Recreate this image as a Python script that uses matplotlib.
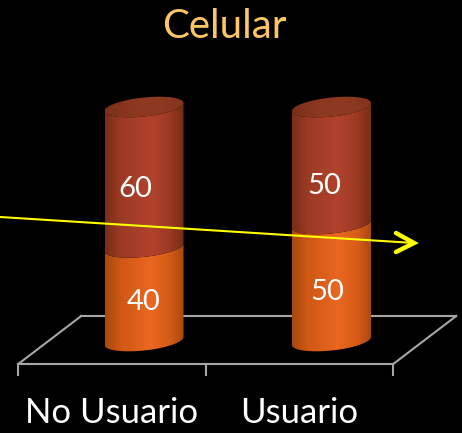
import numpy as np
import matplotlib
matplotlib.use('Agg')
import matplotlib.pyplot as plt
from matplotlib.colors import LinearSegmentedColormap
from matplotlib.patches import Polygon

plt.rcParams['font.family'] = ['Lato', 'DejaVu Sans']

# data
categories = ['No Usuario', 'Usuario']
lower_values = [40, 50]
upper_values = [60, 50]
title = 'Celular'

# colours
orange_stops = [(0, '#a8480e'), (0.2, '#cf5815'), (0.58, '#ea6720'), (0.82, '#d65c17'), (1, '#a8480e')]
red_stops = [(0, '#7a2e18'), (0.2, '#9c3a24'), (0.58, '#b2422c'), (0.82, '#9c3a24'), (1, '#742c17')]
cap_stops = ['#7a3019', '#8c3820', '#8e3a22', '#84341c']
grid_color = '#a6a6a6'

W, H = 462, 433
PX_X = 187.5   # pixels per category
PX_Y = 2.34    # pixels per value unit
FRONT_X = 112  # pixel of first category on the front edge
FRONT_Y = 364  # pixel of value 0 on the front edge

fig = plt.figure(figsize=(W / 100, H / 100), dpi=100, facecolor='black')
ax = fig.add_axes([0, 0, 1, 1])
ax.set_facecolor('black')
ax.axis('off')
xlim = (-FRONT_X / PX_X, (W - FRONT_X) / PX_X)
ylim = (-(H - FRONT_Y) / PX_Y, FRONT_Y / PX_Y)

# oblique depth of the floor
depth_x = 63 / PX_X
depth_y = 48 / PX_Y
bar_dx = 32 / PX_X
bar_dy = 23 / PX_Y
a = 39.5 / PX_X
b = 9.5 / PX_Y
k = 4 / PX_Y


def front_arc(cx, cy):
    t = np.linspace(np.pi, 0, 60)
    return cx + a * np.cos(t), cy + k * np.cos(t) - b * np.sin(t)


def back_arc(cx, cy):
    t = np.linspace(0, -np.pi, 60)
    return cx + a * np.cos(t), cy + k * np.cos(t) - b * np.sin(t)


def shaded(verts, stops, x0, x1, y0, y1, z):
    cmap = LinearSegmentedColormap.from_list('shade', stops)
    grad = np.linspace(0, 1, 200).reshape(1, -1)
    im = ax.imshow(grad, cmap=cmap, extent=(x0, x1, y0, y1), aspect='auto',
                   zorder=z, interpolation='bilinear')
    clip = Polygon(verts, closed=True, transform=ax.transData, fc='none', ec='none')
    ax.add_patch(clip)
    im.set_clip_path(clip)


def segment(cx, v0, v1, stops):
    y0 = v0 + bar_dy
    y1 = v1 + bar_dy
    xa, ya = front_arc(cx, y0)
    xb, yb = front_arc(cx, y1)
    verts = np.vstack([np.column_stack([xa, ya]), np.column_stack([xb[::-1], yb[::-1]])])
    shaded(verts, stops, cx - a, cx + a, y0 - 2 * b, y1 + 2 * b, 2)


# floor outline
x_left, x_right = -0.5, 1.5
ax.plot([x_left, x_right], [0, 0], color=grid_color, lw=1.5, zorder=1)
ax.plot([x_left + depth_x, x_right + depth_x], [depth_y, depth_y], color=grid_color, lw=1.5, zorder=1)
ax.plot([x_left, x_left + depth_x], [0, depth_y], color=grid_color, lw=1.5, zorder=1)
ax.plot([x_right, x_right + depth_x], [0, depth_y], color=grid_color, lw=1.5, zorder=1)
for tick in [x_left, 0.5, x_right]:
    ax.plot([tick, tick], [0, -11 / PX_Y], color=grid_color, lw=1.5, zorder=1)

# cylinders
label_offsets = [[(0, -8), (-9, -12)], [(-4, -10), (-7, -21)]]
for i, (low, up) in enumerate(zip(lower_values, upper_values)):
    cx = i + bar_dx
    segment(cx, 0, low, orange_stops)
    segment(cx, low, low + up, red_stops)
    top = low + up + bar_dy
    xf, yf = front_arc(cx, top)
    xr, yr = back_arc(cx, top)
    shaded(np.column_stack([np.r_[xf, xr], np.r_[yf, yr]]), cap_stops,
           cx - a, cx + a, top - 2 * b, top + 2 * b, 2.5)
    for value, mid, off in zip((low, up), (low / 2, low + up / 2), label_offsets[i]):
        ax.annotate(str(value), (cx, mid + bar_dy), xytext=off, textcoords='offset pixels',
                    color='white', fontsize=21, ha='center', va='center', zorder=5)

# trend arrow, placed in figure fractions
arrow_color = '#ffff00'
fx = lambda p: p / W
fy = lambda p: 1 - p / H
ax.plot([fx(0), fx(414)], [fy(217), fy(243)], color=arrow_color, lw=1.5,
        transform=ax.transAxes, zorder=4, solid_capstyle='butt')
ax.plot([fx(396), fx(414), fx(396)], [fy(233), fy(243), fy(252)], color=arrow_color, lw=3.2,
        transform=ax.transAxes, zorder=4, solid_capstyle='round', solid_joinstyle='miter')

# category labels and title
for i, name in enumerate(categories):
    ax.text(i, -(413 - FRONT_Y) / PX_Y, name, color='white', fontsize=25, ha='center', va='center')
ax.text(fx(224), fy(26), title, color='#fcc762', fontsize=29, ha='center', va='center',
        transform=ax.transAxes)

ax.set_xlim(xlim)
ax.set_ylim(ylim)
fig.savefig('out.png', dpi=100, facecolor='black')
